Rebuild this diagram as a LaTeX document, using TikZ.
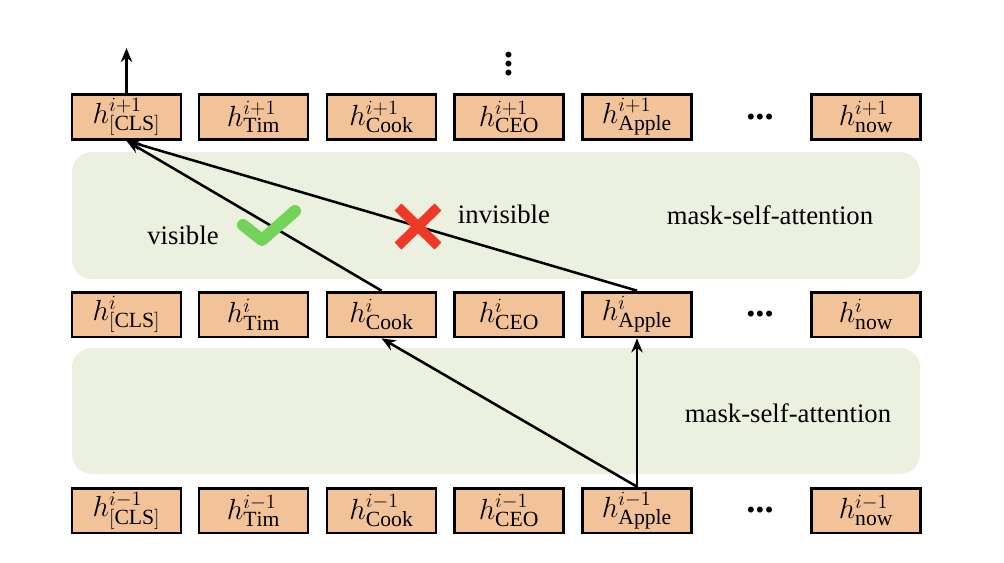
\documentclass[tikz,border=0pt]{standalone}
\usepackage{fontspec}
\setmainfont{Liberation Serif}
\usetikzlibrary{arrows.meta}
\definecolor{boxfill}{RGB}{242,195,153}
\definecolor{panelfill}{RGB}{236,240,223}
\definecolor{okgreen}{RGB}{115,210,90}
\definecolor{nored}{RGB}{238,56,40}
\tikzset{
  hbox/.style={draw=black, fill=boxfill, line width=2pt, minimum width=2.72cm, minimum height=1.12cm, inner sep=0pt, font=\fontsize{22}{24}\selectfont},
  panel/.style={fill=panelfill, rounded corners=0.5cm},
  lbl/.style={font=\fontsize{19}{22}\selectfont},
  dots/.style={font=\fontsize{26}{28}\selectfont\bfseries},
  att/.style={line width=1.8pt, -{Stealth[length=10pt,width=8pt]}}
}

\begin{document}
\begin{tikzpicture}[x=0.025cm, y=-0.025cm]
\useasboundingbox (0,0) rectangle (1004,562);
\fill[panel] (72,152) rectangle (920,279);
\fill[panel] (72,348) rectangle (920,474);

\foreach \r/\y/\p in {t/117/i+1, m/314.5/i, b/510.5/i-1}{
  \foreach \n/\x/\s in {cls/126.5/{[CLS]}, tim/253.5/Tim, cook/381.5/Cook, ceo/509/CEO, apple/637/Apple, now/866/now}
    \node[hbox] (\r-\n) at (\x,\y) {$h^{\p}_{\mathrm{\s}}$};
  \node[dots] (\r-dots) at (760,\y) {...};
}
\node[dots, rotate=-90] (vdots) at (509,64) {...};
\coordinate (out) at (126.5,48);

\draw[att] (t-cls.north) -- (out);
\draw[att] (m-cook.north) -- (t-cls.south);
\draw[att] (m-apple.north) -- (t-cls.south);
\draw[att] (b-apple.north) -- (m-cook.south);
\draw[att] (b-apple.north) -- (m-apple.south);

\draw[okgreen, line width=8.5pt, line cap=round, line join=round] (243,225) -- (262,240) -- (295,211);
\draw[nored, line width=7pt] (398,207) -- (438,246) (438,207) -- (398,246);

\node[lbl] (vis) at (183,235) {visible};
\node[lbl] (invis) at (504,214) {invisible};
\node[lbl] (att1) at (770,215) {mask-self-attention};
\node[lbl] (att2) at (788,413) {mask-self-attention};
\end{tikzpicture}
\end{document}
